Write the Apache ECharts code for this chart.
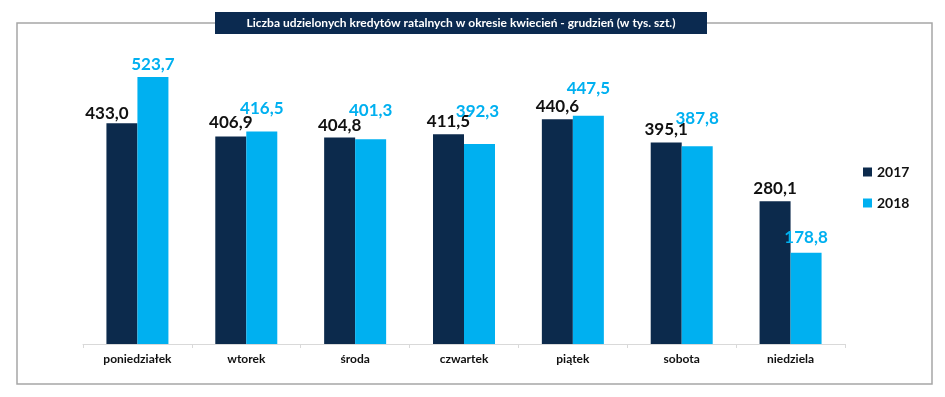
<!DOCTYPE html>
<html>
<head>
<meta charset="utf-8">
<script src="https://cdn.jsdelivr.net/npm/echarts@6/dist/echarts.min.js"></script>
<style>html,body{margin:0;padding:0;background:#fff}#c{width:945px;height:397px}</style>
</head>
<body>
<div id="c"></div>
<script>
const titleText = 'Liczba udzielonych kredytów ratalnych w okresie kwiecień - grudzień (w tys. szt.)';
const categories = ['poniedziałek', 'wtorek', 'środa', 'czwartek', 'piątek', 'sobota', 'niedziela'];
const seriesNames = ['2017', '2018'];
const values2017 = [433.0, 406.9, 404.8, 411.5, 440.6, 395.1, 280.1];
const values2018 = [523.7, 416.5, 401.3, 392.3, 447.5, 387.8, 178.8];
// label placement tweaks (layout only)
const lift2017 = [[-15, 3], [0, -1], [0, 0], [0, 0], [0, 0], [0, 0], [0, 0]];
const lift2018 = [[0, 0], [0, -11], [0, -16], [-2, -20], [0, -15], [0, -15], [0, -3]];

const FONT = 'Lato';
const DARK = '#0c2a4c';
const LIGHT = '#00b0f0';
const fmt = v => v.toFixed(1).replace('.', ',');

function mk(vals, lifts) {
  return vals.map((v, i) => ({
    value: v,
    label: { offset: lifts[i] }
  }));
}

const chart = echarts.init(document.getElementById('c'), null, { renderer: 'canvas' });
chart.setOption({
  animation: false,
  textStyle: { fontFamily: FONT },
  grid: { left: 83, right: 100, top: 38, bottom: 53, containLabel: false },
  legend: {
    orient: 'vertical',
    left: 858,
    top: 160,
    itemWidth: 9,
    itemHeight: 9,
    itemGap: 17,
    icon: 'rect',
    textStyle: { fontFamily: FONT, fontWeight: 'bold', fontSize: 14, color: '#111' },
    data: seriesNames
  },
  xAxis: {
    type: 'category',
    data: categories,
    axisLine: { lineStyle: { color: '#d9d9d9', width: 1 } },
    axisTick: { show: true, length: 4, lineStyle: { color: '#d9d9d9' } },
    axisLabel: { fontFamily: FONT, fontWeight: 'bold', fontSize: 12, color: '#111', margin: 9 }
  },
  yAxis: {
    type: 'value', min: 0, max: 600, show: false,
    splitLine: { show: false }
  },
  series: [
    {
      name: seriesNames[0], type: 'bar', barWidth: 31, barGap: '0%',
      itemStyle: { color: DARK },
      label: { show: true, position: 'top', distance: 4, fontFamily: FONT, fontWeight: 'bold', fontSize: 17, color: '#111',
        formatter: p => fmt(p.value) },
      data: mk(values2017, lift2017)
    },
    {
      name: seriesNames[1], type: 'bar', barWidth: 31, barGap: '0%',
      itemStyle: { color: LIGHT },
      label: { show: true, position: 'top', distance: 4, fontFamily: FONT, fontWeight: 'bold', fontSize: 17, color: LIGHT,
        formatter: p => fmt(p.value) },
      data: mk(values2018, lift2018)
    }
  ],
  graphic: [
    { type: 'rect', z: 0, shape: { x: 17, y: 23, width: 915, height: 361 },
      style: { fill: null, stroke: '#a6a6a6', lineWidth: 1.5 }, silent: true },
    { type: 'rect', z: 10, shape: { x: 215, y: 12, width: 492, height: 22 },
      style: { fill: '#0b2a50' }, silent: true },
    { type: 'text', z: 11, x: 461, y: 23,
      style: { text: titleText, fill: '#fff', font: 'bold 12px ' + FONT, textAlign: 'center', textVerticalAlign: 'middle' },
      silent: true }
  ]
});
</script>
</body>
</html>
